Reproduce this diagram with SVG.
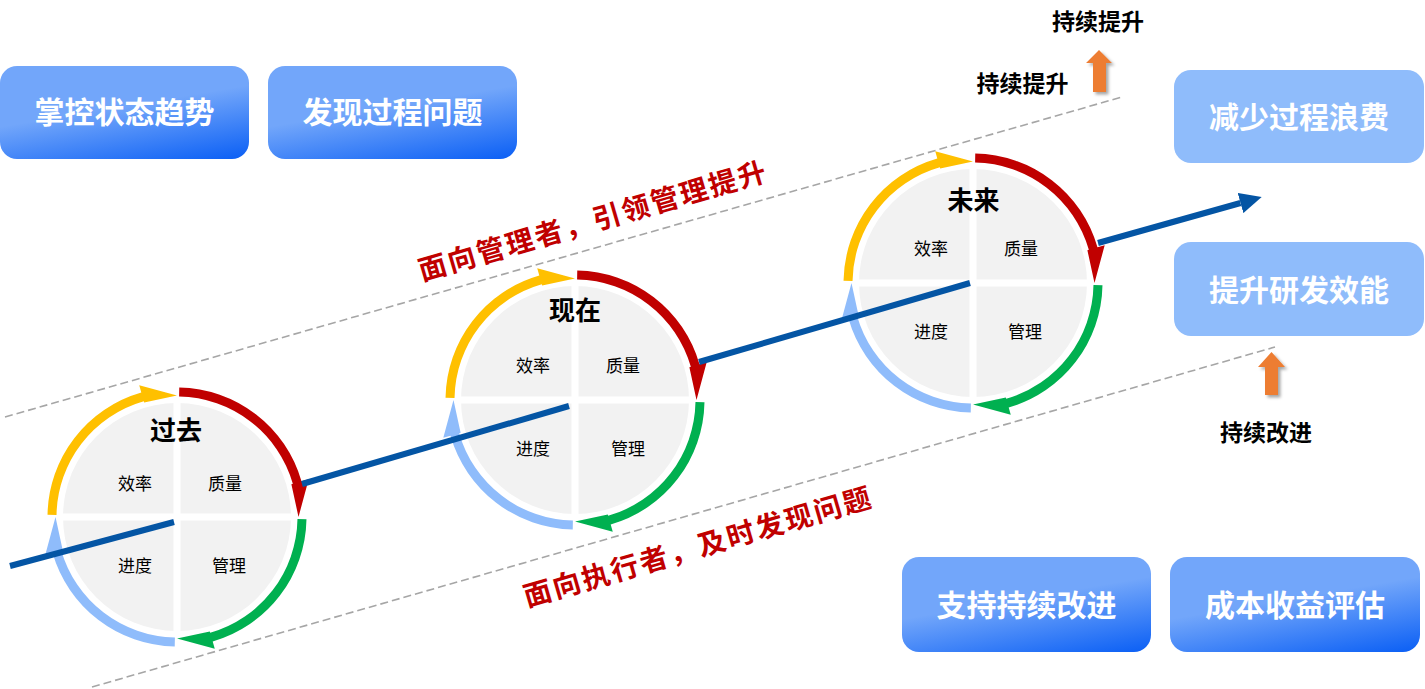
<svg xmlns="http://www.w3.org/2000/svg" xmlns:xlink="http://www.w3.org/1999/xlink" width="1425" height="689" viewBox="0 0 1425 689">
<style>
.bx{font-family:"Noto Sans CJK SC","Noto Sans",sans-serif;font-weight:bold;font-size:30px;fill:#fff;text-anchor:middle}
.ttl{font-family:"Noto Sans CJK SC","Noto Sans",sans-serif;font-weight:bold;font-size:26px;fill:#000;text-anchor:middle}
.lbl{font-family:"Noto Sans CJK SC","Noto Sans",sans-serif;font-size:17px;fill:#000;text-anchor:middle}
.note{font-family:"Noto Sans CJK SC","Noto Sans",sans-serif;font-weight:bold;font-size:23px;fill:#000;text-anchor:middle}
.red{font-family:"Noto Sans CJK SC","Noto Sans",sans-serif;font-weight:bold;font-size:28px;fill:#C00000;letter-spacing:2.2px}
.disk{fill:#F2F2F2}
.gap{fill:#fff}
.dash{stroke:#A6A6A6;stroke-width:1.6;stroke-dasharray:8 4;fill:none}
.flow{stroke:#0455A4;stroke-width:6;fill:none}
.up{fill:#ED7D31}
</style>
<defs>
<linearGradient id="g" x1="0.3" y1="0.1" x2="0.75" y2="1.1">
<stop offset="0.35" stop-color="#72A6FA"/>
<stop offset="1" stop-color="#0C60F5"/>
</linearGradient>
<path id="arc" d="M -129.48 -2.26 A 129.5 129.5 0 0 1 -35.70 -124.48 L -37.76 -131.69 L 0 -121.5 L -32.80 -114.39 L -33.21 -115.83 A 120.5 120.5 0 0 0 -120.48 -2.10 Z"/>
<g id="quad">
<circle class="disk" r="114"/>
<rect class="gap" x="-3.5" y="-116" width="7" height="232"/>
<rect class="gap" x="-116" y="-3.5" width="232" height="7"/>
<use xlink:href="#arc" fill="#FFC000"/>
<use xlink:href="#arc" fill="#C00000" transform="rotate(90)"/>
<use xlink:href="#arc" fill="#00B050" transform="rotate(180)"/>
<use xlink:href="#arc" fill="#8FBCFB" transform="rotate(270)"/>
</g>
<marker id="ah" markerUnits="userSpaceOnUse" viewBox="0 0 22 21" markerWidth="22" markerHeight="21" refX="0" refY="10.5" orient="auto">
<path d="M0,0 L22,10.5 L0,21 Z" fill="#0455A4"/>
</marker>
<filter id="sh" x="-50%" y="-50%" width="200%" height="200%">
<feDropShadow dx="2.5" dy="2.5" stdDeviation="1.5" flood-color="#000" flood-opacity="0.35"/>
</filter>
</defs>

<g id="connectors">
<line class="dash" x1="5" y1="417" x2="1122" y2="97"/>
<line class="dash" x1="92" y1="687" x2="1275" y2="347"/>
</g>

<g id="box-trend"><rect x="0" y="66" width="249" height="93" rx="17" fill="url(#g)"/><text class="bx" x="124.5" y="123">掌控状态趋势</text></g>
<g id="box-issue"><rect x="268" y="66" width="249" height="93" rx="17" fill="url(#g)"/><text class="bx" x="392.5" y="123">发现过程问题</text></g>
<g id="box-waste"><rect x="1174" y="70" width="250" height="93" rx="17" fill="#8FBCFB"/><text class="bx" x="1299" y="128">减少过程浪费</text></g>
<g id="box-efficiency"><rect x="1174" y="242" width="250" height="94" rx="17" fill="#8FBCFB"/><text class="bx" x="1299" y="300.5">提升研发效能</text></g>
<g id="box-improve"><rect x="902" y="557" width="249" height="95" rx="17" fill="url(#g)"/><text class="bx" x="1026.5" y="615.5">支持持续改进</text></g>
<g id="box-cost"><rect x="1170" y="557" width="250" height="95" rx="17" fill="url(#g)"/><text class="bx" x="1295" y="615.5">成本收益评估</text></g>

<g id="circle-past">
<use xlink:href="#quad" x="177" y="517"/>
<text class="ttl" x="176" y="440">过去</text>
<text class="lbl" x="135" y="489.5">效率</text>
<text class="lbl" x="225" y="489.5">质量</text>
<text class="lbl" x="135" y="571.5">进度</text>
<text class="lbl" x="229" y="571.5">管理</text>
</g>
<g id="circle-now">
<use xlink:href="#quad" x="575" y="400"/>
<text class="ttl" x="575" y="320">现在</text>
<text class="lbl" x="533" y="371.5">效率</text>
<text class="lbl" x="623" y="371.5">质量</text>
<text class="lbl" x="533" y="454.5">进度</text>
<text class="lbl" x="628" y="454.5">管理</text>
</g>
<g id="circle-future">
<use xlink:href="#quad" x="973" y="283"/>
<text class="ttl" x="973.5" y="210">未来</text>
<text class="lbl" x="931" y="254.5">效率</text>
<text class="lbl" x="1021" y="254.5">质量</text>
<text class="lbl" x="931" y="337.5">进度</text>
<text class="lbl" x="1025" y="337.5">管理</text>
</g>

<g id="flow-line">
<line class="flow" x1="10" y1="566" x2="174" y2="522"/>
<line class="flow" x1="302" y1="484" x2="569" y2="406"/>
<line class="flow" x1="699" y1="362" x2="970" y2="283"/>
<line class="flow" x1="1098" y1="243" x2="1240.5" y2="203" marker-end="url(#ah)"/>
</g>

<g id="label-manager"><text class="red" x="422" y="281" transform="rotate(-16.2 422 281)">面向管理者，引领管理提升</text></g>
<g id="label-executor"><text class="red" x="527" y="607" transform="rotate(-16.2 527 607)">面向执行者，及时发现问题</text></g>

<g id="arrow-up-1"><polygon class="up" filter="url(#sh)" points="1099,50 1112,63 1106,63 1106,92 1093,92 1093,63 1086,63"/></g>
<g id="arrow-up-2"><polygon class="up" filter="url(#sh)" points="1271.5,352 1285,367 1278,367 1278,395 1265,395 1265,367 1258,367"/></g>

<g id="note-raise-top"><text class="note" x="1098" y="29.5">持续提升</text></g>
<g id="note-raise"><text class="note" x="1022.5" y="91.5">持续提升</text></g>
<g id="note-improve"><text class="note" x="1266" y="440.5">持续改进</text></g>
</svg>
